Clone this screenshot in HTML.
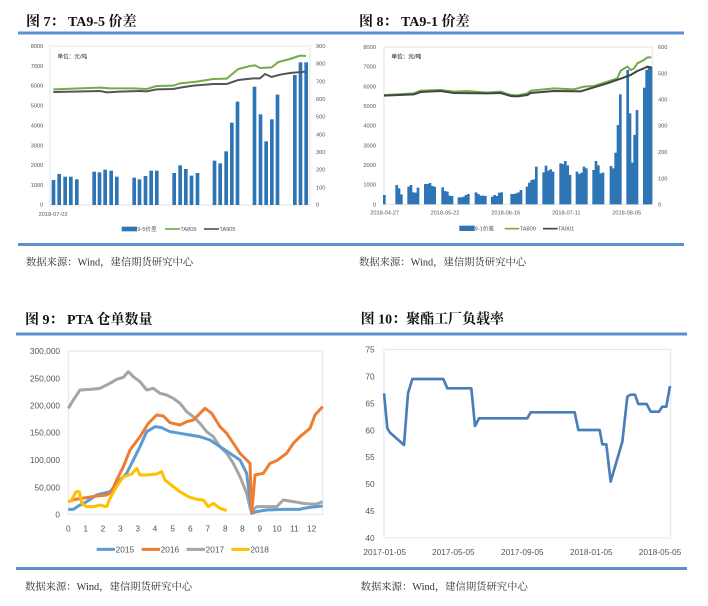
<!DOCTYPE html>
<html><head><meta charset="utf-8"><style>
html,body{margin:0;padding:0;background:#fff;}
svg{display:block;}
.t{font-family:"Liberation Serif","Noto Serif CJK SC",serif;font-weight:bold;fill:#111;}
.s{font-family:"Liberation Serif","Noto Serif CJK SC",serif;fill:#333;}
.a{font-family:"Liberation Sans","Noto Sans CJK SC",sans-serif;fill:#555;}
</style></head><body>
<svg width="708" height="606" viewBox="0 0 708 606" xmlns="http://www.w3.org/2000/svg">
<rect width="708" height="606" fill="#fff"/>
<!-- rules -->
<rect x="18" y="31.5" width="666" height="3" fill="#5b8fd0"/>
<rect x="18" y="243" width="666" height="3" fill="#5b8fd0"/>
<rect x="16" y="332.5" width="671" height="3" fill="#5b8fd0"/>
<rect x="16" y="567" width="671" height="3" fill="#5b8fd0"/>

<!-- Q1 -->
<g transform="scale(0.33333)">
<text class="t" x="78" y="78" font-size="42">图 7：  TA9-5 价差</text>
<rect x="150" y="138" width="780" height="477" fill="none" stroke="#e4e4e4" stroke-width="3"/>
<g class="a" font-size="17" text-anchor="end">
<text x="130" y="144">8000</text><text x="130" y="204">7000</text><text x="130" y="263">6000</text><text x="130" y="323">5000</text><text x="130" y="382">4000</text><text x="130" y="442">3000</text><text x="130" y="501">2000</text><text x="130" y="561">1000</text><text x="130" y="620">0</text>
</g>
<g class="a" font-size="17">
<text x="948" y="144">900</text><text x="948" y="197">800</text><text x="948" y="250">700</text><text x="948" y="303">600</text><text x="948" y="356">500</text><text x="948" y="409">400</text><text x="948" y="462">300</text><text x="948" y="515">200</text><text x="948" y="568">100</text><text x="948" y="620">0</text>
<text x="116" y="648">2018-07-02</text>
<text x="172" y="175" fill="#222">单位：元/吨</text>
</g>
<g fill="#2e75b6" id="b1">
<rect x="155" y="540" width="11" height="75"/><rect x="172" y="522" width="11" height="93"/><rect x="190" y="530" width="11" height="85"/><rect x="207" y="530" width="11" height="85"/><rect x="225" y="538" width="11" height="77"/>
<rect x="277" y="515" width="11" height="100"/><rect x="293" y="517" width="11" height="98"/><rect x="310" y="509" width="11" height="106"/><rect x="328" y="512" width="11" height="103"/><rect x="345" y="530" width="11" height="85"/>
<rect x="397" y="533" width="11" height="82"/><rect x="413" y="538" width="11" height="77"/><rect x="431" y="528" width="11" height="87"/><rect x="448" y="512" width="11" height="103"/><rect x="465" y="512" width="11" height="103"/>
<rect x="517" y="519" width="11" height="96"/><rect x="535" y="496" width="11" height="119"/><rect x="552" y="507" width="11" height="108"/><rect x="569" y="527" width="11" height="88"/><rect x="587" y="519" width="11" height="96"/>
<rect x="638" y="482" width="11" height="133"/><rect x="655" y="490" width="11" height="125"/><rect x="673" y="454" width="11" height="161"/><rect x="690" y="368" width="11" height="247"/><rect x="707" y="305" width="11" height="310"/>
<rect x="758" y="260" width="11" height="355"/><rect x="776" y="343" width="11" height="272"/><rect x="793" y="424" width="11" height="191"/><rect x="810" y="358" width="11" height="257"/><rect x="827" y="284" width="11" height="331"/>
<rect x="879" y="225" width="11" height="390"/><rect x="896" y="187" width="11" height="428"/><rect x="913" y="187" width="11" height="428"/>
</g>
<polyline fill="none" stroke="#70ad47" stroke-width="6" points="160,268 300,263 330,265 400,265 440,267 470,258 520,257 540,250 590,245 640,237 680,236 715,207 750,198 765,196 780,204 815,202 835,186 870,177 900,167 918,168"/>
<polyline fill="none" stroke="#555" stroke-width="6" points="160,276 220,275 300,273 320,277 360,275 420,273 440,274 470,268 520,267 545,262 580,257 640,252 680,252 715,240 760,235 780,235 795,222 815,231 840,224 870,219 918,215"/>
<rect x="365" y="680" width="46" height="14" fill="#2e75b6"/>
<text class="a" x="412" y="693" font-size="17">9-5价差</text>
<line x1="495" y1="687" x2="540" y2="687" stroke="#70ad47" stroke-width="5"/>
<text class="a" x="541" y="693" font-size="17">TA809</text>
<line x1="612" y1="687" x2="657" y2="687" stroke="#555" stroke-width="5"/>
<text class="a" x="658" y="693" font-size="17">TA905</text>
<text class="s" x="78" y="797" font-size="31">数据来源：Wind，建信期货研究中心</text>
</g>

<!-- Q2 -->
<g transform="translate(354,0) scale(0.33333)">
<text class="t" x="15" y="78" font-size="42">图 8：  TA9-1 价差</text>
<rect x="90" y="141" width="805" height="472" fill="none" stroke="#e4e4e4" stroke-width="3"/>
<g class="a" font-size="17" text-anchor="end">
<text x="66" y="147">8000</text><text x="66" y="206">7000</text><text x="66" y="265">6000</text><text x="66" y="324">5000</text><text x="66" y="383">4000</text><text x="66" y="442">3000</text><text x="66" y="501">2000</text><text x="66" y="560">1000</text><text x="66" y="619">0</text>
</g>
<g class="a" font-size="17">
<text x="912" y="147">600</text><text x="912" y="226">500</text><text x="912" y="304">400</text><text x="912" y="383">300</text><text x="912" y="462">200</text><text x="912" y="541">100</text><text x="912" y="619">0</text>
</g>
<g class="a" font-size="17" text-anchor="middle">
<text x="92" y="643">2018-04-27</text><text x="273" y="643">2018-05-22</text><text x="455" y="643">2018-06-16</text><text x="637" y="643">2018-07-11</text><text x="818" y="643">2018-08-05</text>
</g>
<text class="a" x="112" y="176" font-size="17" fill="#222" font-weight="bold">单位：元/吨</text>
<g fill="#2e75b6" stroke="none">
<rect x="87" y="585" width="8" height="28"/>
<rect x="124" y="555" width="8" height="58"/><rect x="131" y="565" width="8" height="48"/><rect x="138" y="583" width="8" height="30"/>
<rect x="160" y="560" width="8" height="53"/><rect x="167" y="555" width="8" height="58"/><rect x="174" y="577" width="8" height="36"/><rect x="181" y="578" width="8" height="35"/><rect x="188" y="563" width="8" height="50"/>
<rect x="210" y="552" width="8" height="61"/><rect x="217" y="552" width="8" height="61"/><rect x="224" y="549" width="8" height="64"/><rect x="231" y="558" width="8" height="55"/><rect x="238" y="560" width="8" height="53"/>
<rect x="262" y="562" width="8" height="51"/><rect x="269" y="573" width="8" height="40"/><rect x="276" y="575" width="8" height="38"/><rect x="283" y="587" width="8" height="26"/><rect x="290" y="588" width="8" height="25"/>
<rect x="311" y="592" width="8" height="21"/><rect x="318" y="592" width="8" height="21"/><rect x="325" y="590" width="8" height="23"/><rect x="332" y="585" width="8" height="28"/><rect x="339" y="582" width="8" height="31"/>
<rect x="362" y="577" width="8" height="36"/><rect x="369" y="582" width="8" height="31"/><rect x="376" y="587" width="8" height="26"/><rect x="383" y="587" width="8" height="26"/><rect x="390" y="588" width="8" height="25"/>
<rect x="411" y="590" width="8" height="23"/><rect x="418" y="585" width="8" height="28"/><rect x="425" y="588" width="8" height="25"/><rect x="432" y="578" width="8" height="35"/><rect x="439" y="577" width="8" height="36"/>
<rect x="469" y="582" width="8" height="31"/><rect x="476" y="582" width="8" height="31"/><rect x="483" y="580" width="8" height="33"/><rect x="490" y="577" width="8" height="36"/><rect x="497" y="570" width="8" height="43"/>
<rect x="515" y="560" width="8" height="53"/><rect x="522" y="548" width="8" height="65"/><rect x="529" y="540" width="8" height="73"/><rect x="536" y="538" width="8" height="75"/><rect x="543" y="500" width="8" height="113"/>
<rect x="565" y="517" width="8" height="96"/><rect x="572" y="497" width="8" height="116"/><rect x="579" y="512" width="8" height="101"/><rect x="586" y="508" width="8" height="105"/><rect x="593" y="515" width="8" height="98"/>
<rect x="616" y="490" width="8" height="123"/><rect x="623" y="492" width="8" height="121"/><rect x="630" y="483" width="8" height="130"/><rect x="637" y="496" width="8" height="117"/><rect x="644" y="525" width="8" height="88"/>
<rect x="665" y="515" width="8" height="98"/><rect x="672" y="522" width="8" height="91"/><rect x="679" y="518" width="8" height="95"/><rect x="686" y="500" width="8" height="113"/><rect x="693" y="505" width="8" height="108"/>
<rect x="715" y="510" width="8" height="103"/><rect x="722" y="483" width="8" height="130"/><rect x="729" y="496" width="8" height="117"/><rect x="736" y="520" width="8" height="93"/><rect x="743" y="518" width="8" height="95"/>
<rect x="767" y="498" width="8" height="115"/><rect x="774" y="505" width="8" height="108"/><rect x="781" y="458" width="8" height="155"/><rect x="788" y="375" width="8" height="238"/><rect x="795" y="283" width="8" height="330"/>
<rect x="817" y="210" width="8" height="403"/><rect x="824" y="340" width="8" height="273"/><rect x="831" y="488" width="8" height="125"/><rect x="838" y="405" width="8" height="208"/><rect x="845" y="330" width="8" height="283"/>
<rect x="867" y="263" width="8" height="350"/><rect x="874" y="210" width="8" height="403"/><rect x="881" y="200" width="8" height="413"/><rect x="887" y="200" width="8" height="413"/>
</g>
<polyline fill="none" stroke="#70ad47" stroke-width="6" points="90,285 130,283 180,280 200,272 260,270 300,275 340,273 400,278 440,275 470,285 490,286 520,280 530,272 600,265 660,268 690,260 720,258 760,245 790,235 800,212 820,200 830,210 840,205 850,190 870,180 880,172 892,172"/>
<polyline fill="none" stroke="#444" stroke-width="6" points="90,287 180,283 200,276 260,273 300,279 400,280 440,279 470,288 490,289 520,285 530,279 600,273 680,274 720,262 760,250 800,236 830,225 850,213 870,205 880,200 892,202"/>
<rect x="316" y="677" width="46" height="16" fill="#2e75b6"/>
<text class="a" x="362" y="692" font-size="17">9-1价差</text>
<line x1="452" y1="686" x2="496" y2="686" stroke="#70ad47" stroke-width="5"/>
<text class="a" x="497" y="692" font-size="17">TA809</text>
<line x1="567" y1="686" x2="611" y2="686" stroke="#444" stroke-width="5"/>
<text class="a" x="612" y="692" font-size="17">TA901</text>
<text class="s" x="15" y="797" font-size="31">数据来源：Wind，建信期货研究中心</text>
</g>

<!-- Q3 -->
<g transform="translate(0,300) scale(0.33333)">
<text class="t" x="75" y="72" font-size="42">图 9：  PTA 仓单数量</text>
<rect x="205" y="153" width="763" height="490" fill="none" stroke="#e4e4e4" stroke-width="3"/>
<g class="a" font-size="25" text-anchor="end" fill="#222">
<text x="180" y="162">300,000</text><text x="180" y="244">250,000</text><text x="180" y="325">200,000</text><text x="180" y="407">150,000</text><text x="180" y="489">100,000</text><text x="180" y="571">50,000</text><text x="180" y="652">0</text>
</g>
<g class="a" font-size="25" text-anchor="middle" fill="#222">
<text x="205" y="694">0</text><text x="257" y="694">1</text><text x="309" y="694">2</text><text x="361" y="694">3</text><text x="413" y="694">3</text><text x="465" y="694">4</text><text x="518" y="694">5</text><text x="571" y="694">6</text><text x="623" y="694">7</text><text x="676" y="694">8</text><text x="727" y="694">8</text><text x="779" y="694">9</text><text x="831" y="694">10</text><text x="883" y="694">11</text><text x="935" y="694">12</text>
</g>
<g fill="none" stroke-width="9" stroke-linejoin="round">
<polyline stroke="#a5a5a5" points="205,325 220,300 240,270 270,268 300,265 330,250 350,238 370,232 385,215 400,230 420,245 440,270 460,265 480,280 500,285 520,295 540,310 560,335 580,350 600,370 620,395 640,410 660,440 680,460 700,490 720,530 740,580 752,630 760,630 770,620 800,620 830,620 850,600 880,605 910,610 930,612 950,612 968,605"/>
<polyline stroke="#5b9bd5" points="205,628 220,628 235,618 260,605 290,585 330,575 355,545 380,520 400,480 420,440 440,395 465,380 485,383 510,395 540,400 570,405 600,410 630,420 660,440 690,460 720,480 740,520 750,600 755,640 770,635 800,630 850,628 900,628 910,625 930,622 968,618"/>
<polyline stroke="#ed7d31" points="205,605 225,598 240,596 260,593 290,588 320,585 335,575 350,540 370,500 390,450 420,410 445,370 470,345 490,348 510,368 540,375 560,365 580,360 600,340 615,325 635,340 660,380 680,400 700,430 720,460 740,480 750,490 755,640 765,525 790,520 810,490 830,482 860,460 880,430 900,410 930,385 945,345 968,320"/>
<polyline stroke="#ffc000" points="205,605 215,600 228,575 238,575 245,610 260,620 280,620 300,615 320,620 330,595 350,560 370,530 395,522 410,505 420,525 440,525 470,522 485,515 495,540 520,560 540,575 565,590 590,598 610,600 625,620 640,610 660,625 680,632"/>
</g>
<g class="a" font-size="25" fill="#222">
<line x1="290" y1="748" x2="345" y2="748" stroke="#5b9bd5" stroke-width="9"/><text x="347" y="757">2015</text>
<line x1="425" y1="748" x2="480" y2="748" stroke="#ed7d31" stroke-width="9"/><text x="482" y="757">2016</text>
<line x1="560" y1="748" x2="615" y2="748" stroke="#a5a5a5" stroke-width="9"/><text x="617" y="757">2017</text>
<line x1="694" y1="748" x2="749" y2="748" stroke="#ffc000" stroke-width="9"/><text x="751" y="757">2018</text>
</g>
<text class="s" x="75" y="870" font-size="31">数据来源：Wind，建信期货研究中心</text>
</g>

<!-- Q4 -->
<g transform="translate(354,300) scale(0.33333)">
<text class="t" x="20" y="70" font-size="42">图 10：聚酯工厂负载率</text>
<rect x="90" y="148" width="860" height="566" fill="none" stroke="#e4e4e4" stroke-width="3"/>
<g class="a" font-size="25" text-anchor="end" fill="#222">
<text x="62" y="157">75</text><text x="62" y="238">70</text><text x="62" y="319">65</text><text x="62" y="400">60</text><text x="62" y="480">55</text><text x="62" y="561">50</text><text x="62" y="642">45</text><text x="62" y="723">40</text>
</g>
<g class="a" font-size="25" text-anchor="middle" fill="#222">
<text x="92" y="765">2017-01-05</text><text x="298" y="765">2017-05-05</text><text x="505" y="765">2017-09-05</text><text x="712" y="765">2018-01-05</text><text x="918" y="765">2018-05-05</text>
</g>
<polyline fill="none" stroke="#4a7ebb" stroke-width="8" stroke-linejoin="round" points="90,280 100,385 108,398 150,435 162,280 175,237 268,237 280,265 352,265 363,378 375,355 520,355 530,337 662,337 673,390 737,390 745,433 757,433 770,545 805,425 820,290 830,284 843,284 853,312 878,312 890,335 915,335 925,320 937,320 948,258"/>
<text class="s" x="20" y="870" font-size="31">数据来源：Wind，建信期货研究中心</text>
</g>
</svg>
</body></html>
